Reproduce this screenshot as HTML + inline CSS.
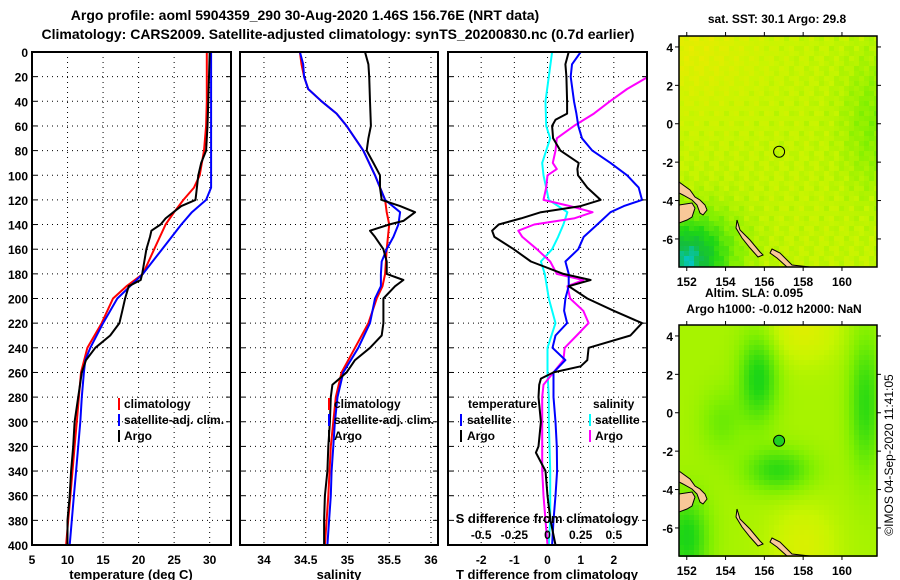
<!DOCTYPE html>
<html><head><meta charset="utf-8"><style>
html,body{margin:0;padding:0;background:#fff;}
svg{display:block;font-family:"Liberation Sans",sans-serif;font-weight:bold;}
</style></head><body>
<svg id="chart" width="900" height="580" viewBox="0 0 900 580" xmlns="http://www.w3.org/2000/svg">
<defs>
<clipPath id="c1"><rect x="32" y="52" width="199" height="493"/></clipPath>
<clipPath id="c2"><rect x="240" y="52" width="198" height="493"/></clipPath>
<clipPath id="c3"><rect x="448" y="52" width="199" height="493"/></clipPath>
<clipPath id="cm1"><rect x="679" y="36" width="198" height="231"/></clipPath>
<clipPath id="cm2"><rect x="679" y="325" width="198" height="232"/></clipPath>
</defs>
<text x="305" y="20" font-size="14" text-anchor="middle">Argo profile: aoml 5904359_290 30-Aug-2020 1.46S 156.76E (NRT data)</text>
<text x="338" y="39" font-size="14" text-anchor="middle">Climatology: CARS2009. Satellite-adjusted climatology: synTS_20200830.nc (0.7d earlier)</text>
<g id="grids"></g>
<g id="series"></g>
<g id="frames"></g>
<g id="maps"></g>
<g id="labels"></g>
</svg>
<script>
// ---------- Data ----------
const depthTicks=[0,20,40,60,80,100,120,140,160,180,200,220,240,260,280,300,320,340,360,380,400];
const tempTicks=[5,10,15,20,25,30];
const salTicks=[34,34.5,35,35.5,36];
const dtTicks=[-2,-1,0,1,2];
const dsTicks=[-0.5,-0.25,0,0.25,0.5];
const dsTickLabels=["-0.5","-0.25","0","0.25","0.5"];

const tClimDepth=[0,20,40,60,80,100,110,120,130,140,160,180,190,200,220,240,260,280,300,320,340,360,380,400];
const tClimVal=[29.6,29.6,29.6,29.5,29.2,28.6,27.8,26.3,25.0,23.8,22.2,20.6,18.3,16.4,14.8,12.8,11.9,11.6,11.3,11.0,10.7,10.4,10.1,9.8];
const tSatDepth=[0,20,40,60,80,100,110,120,130,140,160,180,190,200,220,240,250,260,280,300,320,340,360,380,400];
const tSatVal=[30.2,30.2,30.2,30.2,30.2,30.2,30.2,29.5,27.5,26.0,23.3,20.6,18.8,17.0,15.0,13.2,12.5,12.3,12.0,11.8,11.5,11.2,10.9,10.6,10.3];
const tArgoDepth=[0,40,60,80,90,100,110,120,125,130,135,140,145,150,160,170,180,185,190,200,210,220,230,240,250,260,280,300,320,340,360,380,400];
const tArgoVal=[30.0,29.8,29.7,29.5,28.8,28.4,28.2,28.0,26.0,24.9,23.8,23.1,21.8,21.6,21.1,20.8,20.5,20.3,18.6,18.1,17.7,17.3,16.0,13.9,12.6,12.0,11.5,11.0,10.8,10.5,10.3,10.0,10.0];

const sClimDepth=[0,10,20,30,40,50,60,70,80,100,120,130,140,160,180,190,200,220,240,260,280,300,320,360,400];
const sClimVal=[34.43,34.45,34.48,34.53,34.69,34.87,34.99,35.09,35.19,35.33,35.45,35.47,35.50,35.47,35.45,35.42,35.35,35.25,35.09,34.93,34.86,34.83,34.80,34.77,34.73];
const sSatDepth=[0,10,20,30,40,50,60,70,80,100,120,130,140,150,160,170,180,190,200,220,240,260,280,300,320,340,360,380,400];
const sSatVal=[34.43,34.47,34.48,34.53,34.69,34.87,34.99,35.09,35.19,35.33,35.45,35.63,35.61,35.55,35.47,35.41,35.40,35.40,35.33,35.27,35.13,34.95,34.88,34.85,34.83,34.81,34.80,34.78,34.76];
const sArgoDepth=[0,10,20,40,60,70,80,90,100,110,120,125,130,137,140,145,150,160,170,180,185,190,200,220,230,240,250,260,270,280,300,320,340,360,380,400];
const sArgoVal=[35.21,35.25,35.26,35.27,35.28,35.25,35.23,35.31,35.39,35.39,35.41,35.63,35.81,35.67,35.50,35.27,35.33,35.43,35.47,35.47,35.67,35.57,35.43,35.43,35.41,35.27,35.09,34.99,34.82,34.80,34.79,34.77,34.76,34.73,34.72,34.72];

const dtSatDepth=[0,10,20,40,50,60,70,80,90,100,110,120,125,130,140,150,160,170,180,190,200,210,220,230,240,250,260,280,300,320,340,360,380,400];
const dtSatVal=[1.0,0.74,0.7,0.8,0.87,0.93,1.04,1.35,1.9,2.4,2.75,2.85,2.3,1.9,1.5,1.09,0.93,0.54,0.64,0.64,0.54,0.5,0.59,0.24,0.15,0.54,0.18,0.18,0.24,0.28,0.29,0.24,0.18,0.14];
const dtArgoDepth=[0,10,20,40,50,55,60,70,80,90,95,100,110,120,125,130,135,140,145,150,160,170,180,185,190,200,210,220,230,240,250,255,260,265,270,280,300,320,325,340,360,380,400];
const dtArgoVal=[0.64,0.54,0.57,0.59,0.59,0.24,0.14,0.17,0.39,0.94,0.9,0.92,1.2,1.6,1.0,-0.2,-0.8,-1.47,-1.67,-1.6,-1.02,-0.5,0.48,1.3,0.64,1.2,2.0,2.85,2.5,1.24,1.2,1.0,0.18,-0.2,-0.25,-0.27,-0.2,-0.27,-0.35,-0.06,0,0.09,0.24];
const dsSatDepth=[0,20,40,60,70,80,90,100,120,130,140,150,160,170,180,200,220,240,250,260,280,300,340,380,400];
const dsSatVal=[0.035,0.01,-0.015,-0.01,0.02,-0.01,-0.04,-0.03,0.01,0.15,0.12,0.08,0.035,-0.05,-0.02,0.01,0.06,0.0,0.0,0.0,0.01,0.01,0.02,0.02,0.01];
const dsArgoDepth=[0,20,30,40,50,60,70,80,90,95,100,110,120,125,130,135,140,145,150,160,170,180,185,190,200,210,220,230,240,250,260,270,280,300,320,340,360,380,400];
const dsArgoVal=[0.76,0.76,0.6,0.47,0.35,0.2,0.07,0.06,0.04,0.07,0.0,-0.01,-0.03,0.17,0.34,0.2,-0.1,-0.22,-0.19,-0.08,0.02,0.07,0.27,0.15,0.17,0.27,0.31,0.22,0.13,0.12,0.045,-0.03,-0.04,-0.04,-0.04,-0.04,-0.03,-0.015,0.0];

// map marker
const argoLon=156.76, argoLat=-1.46;
const latTicks=[4,2,0,-2,-4,-6];
const lonTicks=[152,154,156,158,160];

// ---------- Scales ----------
const NS="http://www.w3.org/2000/svg";
const Y0=52, PXM=493/400;
const yD=d=>Y0+d*PXM;
const xT=t=>32+(t-5)*(199/28);
const xS=s=>240+(s-33.713)*(198/2.371);
const xDT=v=>547.5+v*(199/6);
const xDS=v=>547.5+v*(199/6)*4;
const root=document.getElementById('chart');
function el(tag,attrs,parent,text){const e=document.createElementNS(NS,tag);for(const k in attrs)e.setAttribute(k,attrs[k]);if(text!==undefined)e.textContent=text;(parent||root).appendChild(e);return e;}
const gG=document.getElementById('grids'),gS=document.getElementById('series'),gF=document.getElementById('frames'),gM=document.getElementById('maps'),gL=document.getElementById('labels');

const panels=[{x0:32,x1:231,ticks:tempTicks,sx:xT,clip:'c1',name:'temperature'},
{x0:240,x1:438,ticks:salTicks,sx:xS,clip:'c2',name:'salinity'},
{x0:448,x1:647,ticks:dtTicks,sx:xDT,clip:'c3',name:'difference'}];
panels.forEach(p=>{
  depthTicks.forEach(d=>{ if(d>0&&d<400){const l=el('line',{x1:p.x0,x2:p.x1,y1:yD(d),y2:yD(d),stroke:'#000','stroke-width':1,'stroke-dasharray':'1,4'},gG);
    
    }});
  p.ticks.forEach(t=>{const x=p.sx(t); if(x>p.x0+1&&x<p.x1-1){const l=el('line',{x1:x,x2:x,y1:Y0,y2:yD(400),stroke:'#000','stroke-width':1,'stroke-dasharray':'1,4'},gG);
    
    }});
  const r=el('rect',{x:p.x0,y:Y0,width:p.x1-p.x0,height:yD(400)-Y0,fill:'none',stroke:'#000','stroke-width':2},gF);
  
  
  depthTicks.forEach(d=>{el('line',{x1:p.x0,x2:p.x0+5,y1:yD(d),y2:yD(d),stroke:'#000','stroke-width':1},gF);el('line',{x1:p.x1-5,x2:p.x1,y1:yD(d),y2:yD(d),stroke:'#000','stroke-width':1},gF);});
});
depthTicks.forEach(d=>{const t=el('text',{x:28,y:yD(d)+5,'font-size':12,'text-anchor':'end'},gL,String(d));
  
  });
function xlabels(ticks,sx,labels,y,name){ticks.forEach((t,i)=>{const e=el('text',{x:sx(t),y:y,'font-size':12,'text-anchor':'middle'},gL,labels?labels[i]:String(t));
  
  });}
xlabels(tempTicks,xT,null,564,'temperature-tick-label');
xlabels(salTicks,xS,null,564,'salinity-tick-label');
xlabels(dtTicks,xDT,null,564,'t-difference-tick-label');
xlabels(dsTicks,xDS,dsTickLabels,539,'s-difference-tick-label');

function series(depths,vals,sx,color,clip,name,w){
  const pts=depths.map((d,i)=>sx(vals[i]).toFixed(1)+','+yD(d).toFixed(1)).join(' ');
  const pl=el('polyline',{points:pts,fill:'none',stroke:color,'stroke-width':w||2,'clip-path':'url(#'+clip+')','stroke-linejoin':'round'},gS);
  
  
}
series(tClimDepth,tClimVal,xT,'#ff0000','c1','temperature-climatology-line');
series(tSatDepth,tSatVal,xT,'#0000ff','c1','temperature-satellite-line');
series(tArgoDepth,tArgoVal,xT,'#000000','c1','temperature-argo-line');
series(sClimDepth,sClimVal,xS,'#ff0000','c2','salinity-climatology-line');
series(sSatDepth,sSatVal,xS,'#0000ff','c2','salinity-satellite-line');
series(sArgoDepth,sArgoVal,xS,'#000000','c2','salinity-argo-line');
series(dsSatDepth,dsSatVal,xDS,'#00ffff','c3','s-diff-satellite-line');
series(dsArgoDepth,dsArgoVal,xDS,'#ff00ff','c3','s-diff-argo-line');
series(dtSatDepth,dtSatVal,xDT,'#0000ff','c3','t-diff-satellite-line');
series(dtArgoDepth,dtArgoVal,xDT,'#000000','c3','t-diff-argo-line');

// ---------- Maps ----------
const mapTop=[{y0:36,name:'sst-map',kind:0},{y0:325,name:'sla-map',kind:1}];
const MX0=679,MX1=877,LON0=151.6,PXD=19.4,PYD=19.2;
function lerpC(stops,v){v=Math.max(0,Math.min(1,v));for(let i=0;i<stops.length-1;i++){const a=stops[i],b=stops[i+1];if(v<=b[0]){const f=(v-a[0])/(b[0]-a[0]);return 'rgb('+[1,2,3].map(k=>Math.round(a[k]+(b[k]-a[k])*f)).join(',')+')';}}const s=stops[stops.length-1];return 'rgb('+s[1]+','+s[2]+','+s[3]+')';}
const cstops=[[0,0,200,230],[0.15,20,190,60],[0.3,30,215,20],[0.5,130,240,0],[0.65,200,245,0],[0.8,235,235,0],[1,245,200,20]];
function g(x,y,cx,cy,sx,sy){return Math.exp(-((x-cx)*(x-cx))/(2*sx*sx)-((y-cy)*(y-cy))/(2*sy*sy));}
function field(kind,lon,lat){
  if(kind===0){let v=0.64+0.12*g(lon,lat,152,4.5,2.5,2.5)-0.14*g(lon,lat,161.8,0,1.2,2.5)-0.45*g(lon,lat,151.8,-7.4,1.2,1.5)-0.2*g(lon,lat,153,-6.5,1.5,1.5);
    v+=0.04*Math.sin(lon*7.3+lat*3.1)*Math.cos(lat*5.7);return v;}
  let v=0.58+0.16*g(lon,lat,158,4.5,1.3,1.3)+0.14*g(lon,lat,158,-7,1.2,1.5)-0.3*g(lon,lat,155.7,1.8,0.7,1.6)-0.25*g(lon,lat,156.7,-3,1.2,0.8)-0.25*g(lon,lat,161.2,0.5,0.6,2.5)-0.3*g(lon,lat,152,-6.5,0.8,1.5)-0.12*g(lon,lat,153.8,-0.5,0.8,1.2);
  return v;}
const land=[
 [[679,182],[690,190],[695,197],[700,200],[705,205],[707,210],[703,215],[700,213],[697,205],[692,200],[683,195],[679,193]],
 [[679,205],[692,203],[695,208],[692,217],[687,220],[679,223]],
 [[737,220],[740,230],[750,240],[760,252],[763,255],[758,257],[750,248],[742,238],[736,228]],
 [[772,249],[780,253],[787,260],[792,265],[810,267],[787,267],[777,258],[770,253]]];
mapTop.forEach((m,mi)=>{
  const latTop=4.57, y0=m.y0;
  const g1=el('g',{'clip-path':'url(#cm'+(mi+1)+')'},gM);
  
  
  const cs=5;
  for(let x=MX0;x<MX1;x+=cs)for(let y=y0;y<y0+232;y+=cs){const lon=LON0+(x+cs/2-MX0)/PXD,lat=latTop-(y+cs/2-y0)/PYD;
    el('rect',{x:x,y:y,width:cs+0.5,height:cs+0.5,fill:lerpC(cstops,field(m.kind,lon,lat))},g1);}
  const dy=y0-36;
  land.forEach(poly=>{const p=el('polygon',{points:poly.map(q=>q[0]+','+(q[1]+dy)).join(' '),fill:'#f8c898',stroke:'#000','stroke-width':1},g1);
    
    });
  const fr=el('rect',{x:MX0,y:y0,width:MX1-MX0,height:231,fill:'none',stroke:'#000','stroke-width':1.5},gM);
  
  
  const cx=MX0+(argoLon-LON0)*PXD, cy=y0+(latTop-argoLat)*PYD;
  const c=el('circle',{cx:cx,cy:cy,r:5.5,fill:m.kind?'#20d020':'none',stroke:'#000','stroke-width':1},gM);
  
  
  latTicks.forEach(l=>{const yy=y0+(latTop-l)*PYD;
    el('line',{x1:MX0-4,x2:MX0,y1:yy,y2:yy,stroke:'#000'},gM);el('line',{x1:MX1,x2:MX1+4,y1:yy,y2:yy,stroke:'#000'},gM);
    const t=el('text',{x:673,y:yy+5,'font-size':12,'text-anchor':'end'},gL,String(l));
    
    });
  lonTicks.forEach(l=>{const xx=MX0+(l-LON0)*PXD;
    el('line',{x1:xx,x2:xx,y1:y0-4,y2:y0,stroke:'#000'},gM);el('line',{x1:xx,x2:xx,y1:y0+231,y2:y0+235,stroke:'#000'},gM);
    const t=el('text',{x:xx,y:y0+250,'font-size':12,'text-anchor':'middle'},gL,String(l));
    
    });
});
</script>
<svg style="position:absolute;left:0;top:0" width="900" height="580" xmlns="http://www.w3.org/2000/svg" font-family="Liberation Sans, sans-serif" font-weight="bold" font-size="12">
<text x="131" y="579" font-size="13" text-anchor="middle">temperature (deg C)</text>
<text x="339" y="579" font-size="13" text-anchor="middle">salinity</text>
<text x="547" y="579" font-size="13" text-anchor="middle">T difference from climatology</text>
<text x="547" y="523" font-size="13" text-anchor="middle">S difference from climatology</text>
<line x1="119" y1="398" x2="119" y2="410" stroke="#f00" stroke-width="2"/>
<text x="124" y="408">climatology</text>
<line x1="119" y1="414" x2="119" y2="426" stroke="#00f" stroke-width="2"/>
<text x="124" y="424">satellite-adj. clim.</text>
<line x1="119" y1="430" x2="119" y2="442" stroke="#000" stroke-width="2"/>
<text x="124" y="440">Argo</text>
<line x1="329" y1="398" x2="329" y2="410" stroke="#f00" stroke-width="2"/>
<text x="334" y="408">climatology</text>
<line x1="329" y1="414" x2="329" y2="426" stroke="#00f" stroke-width="2"/>
<text x="334" y="424">satellite-adj. clim.</text>
<line x1="329" y1="430" x2="329" y2="442" stroke="#000" stroke-width="2"/>
<text x="334" y="440">Argo</text>
<text x="468" y="408">temperature</text>
<text x="593" y="408">salinity</text>
<line x1="461" y1="414" x2="461" y2="426" stroke="#00f" stroke-width="2"/>
<text x="467" y="424">satellite</text>
<line x1="461" y1="430" x2="461" y2="442" stroke="#000" stroke-width="2"/>
<text x="467" y="440">Argo</text>
<line x1="590" y1="414" x2="590" y2="426" stroke="#0ff" stroke-width="2"/>
<text x="595" y="424">satellite</text>
<line x1="590" y1="430" x2="590" y2="442" stroke="#f0f" stroke-width="2"/>
<text x="595" y="440">Argo</text>
<text x="777" y="23" text-anchor="middle">sat. SST: 30.1 Argo: 29.8</text>
<text x="754" y="297" text-anchor="middle">Altim. SLA: 0.095</text>
<text x="774" y="313" text-anchor="middle">Argo h1000: -0.012 h2000: NaN</text>
<text x="0" y="0" font-weight="normal" text-anchor="middle" transform="translate(893,455) rotate(-90)">©IMOS 04-Sep-2020 11:41:05</text>
</svg>
</body></html>
